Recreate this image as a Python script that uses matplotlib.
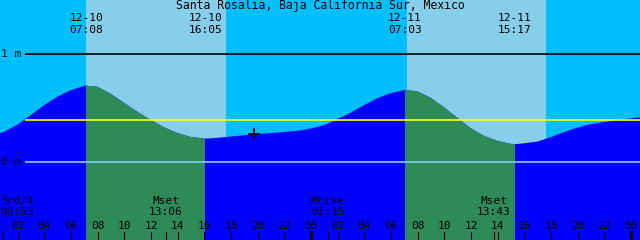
import matplotlib
matplotlib.use("Agg")
import matplotlib.pyplot as plt
from matplotlib.transforms import blended_transform_factory

title = "Santa Rosalia, Baja California Sur, Mexico"

# hours since 12-10 00:00, tide height in metres
tide_hours = [0.675, 1, 2, 3, 4, 5, 6, 7, 7.133, 8, 9, 10, 11, 12, 13, 14, 15,
              16, 16.083, 17, 18, 19, 20, 21, 22, 23, 24, 25, 26, 27, 28, 29,
              30, 31, 31.05, 32, 33, 34, 35, 36, 37, 38, 39, 39.283, 40, 41,
              42, 43, 44, 45, 46, 47, 48, 48.675]
tide_m = [0.269, 0.285, 0.350, 0.438, 0.531, 0.609, 0.669, 0.708, 0.710, 0.699,
          0.632, 0.549, 0.466, 0.392, 0.322, 0.271, 0.234, 0.221, 0.219, 0.227,
          0.239, 0.251, 0.262, 0.271, 0.281, 0.292, 0.313, 0.345, 0.401, 0.461,
          0.531, 0.595, 0.642, 0.669, 0.670, 0.656, 0.595, 0.507, 0.410, 0.313,
          0.244, 0.197, 0.171, 0.168, 0.176, 0.193, 0.234, 0.281, 0.322, 0.355,
          0.373, 0.392, 0.407, 0.417]

# high / low tides (labels along the top)
extreme_hours = [7.133, 16.083, 31.05, 39.283]
extreme_dates = ["12-10", "12-10", "12-11", "12-11"]
extreme_times = ["07:08", "16:05", "07:03", "15:17"]

# light sky and green water stretches
day_spans = [(7.125, 17.625), (31.2, 41.625)]
green_spans = [(7.133, 16.083), (31.05, 39.283)]

# moon events (labels along the bottom)
moon_hours = [0.883, 13.1, 25.25, 37.717]
moon_names = ["3rd/4", "Mset", "Mrise", "Mset"]
moon_times = ["00:53", "13:06", "01:15", "13:43"]

mean_level = 0.39
now_hour, now_m = 19.73, 0.262

t_start, t_end = 0.675, 48.675
y_low, y_high = -0.719, 1.503
line_start = 2.55

fig = plt.figure(figsize=(6.4, 2.4), dpi=100)
fig.patch.set_facecolor("#00BFFF")
ax = fig.add_axes([0, 0, 1, 1])
ax.set_axis_off()
ax.set_xlim(t_start, t_end)
ax.set_ylim(y_low, y_high)

for a, b in day_spans:
    ax.axvspan(a, b, color="#87CEEB", lw=0)

water = ax.fill_between(tide_hours, tide_m, y_low - 1, color="#0000FF", lw=0)
clip = water.get_paths()[0]
for a, b in green_spans:
    g = ax.axvspan(a, b, color="#2E8B57", lw=0)
    g.set_clip_path(clip, ax.transData)

ax.hlines(1.0, line_start, t_end, color="black", lw=1.2)
ax.hlines(mean_level, line_start, t_end, color="yellow", lw=1.2)
ax.hlines(0.0, line_start, t_end, color="#87CEFA", lw=1.2)

ax.plot([now_hour], [now_m], marker="+", color="black", ms=8, mew=1.3)

font = dict(family="DejaVu Sans Mono", size=8, color="black")
trans = blended_transform_factory(ax.transData, ax.transAxes)

ax.text(0.5, 0.975, title, transform=ax.transAxes, ha="center", va="center",
        family="DejaVu Sans Mono", size=8.3, color="black")
ax.text(0.002, 1 - 54 / 240, "1 m", transform=ax.transAxes, ha="left", va="center", **font)
ax.text(0.002, 1 - 162 / 240, "0 m", transform=ax.transAxes, ha="left", va="center", **font)

for h, d, t in zip(extreme_hours, extreme_dates, extreme_times):
    ax.text(h, 0.927, d, transform=trans, ha="center", va="center", **font)
    ax.text(h, 0.877, t, transform=trans, ha="center", va="center", **font)

for h, n, t in zip(moon_hours, moon_names, moon_times):
    if h - t_start < 1.5:
        x, ha = t_start + 0.05, "left"
    else:
        x, ha = h, "center"
    ax.text(x, 0.1625, n, transform=trans, ha=ha, va="center", **font)
    ax.text(x, 0.115, t, transform=trans, ha=ha, va="center", **font)
    ax.plot([h, h], [0, 0.033], transform=trans, color="black", lw=0.8)

for h in range(2, 49, 2):
    ax.text(h, 0.058, f"{h % 24:02d}", transform=trans, ha="center", va="center", **font)
    lw = 2.2 if h % 24 == 0 else 0.8
    ax.plot([h, h], [0, 0.033], transform=trans, color="black", lw=lw)

fig.savefig("out.png", dpi=100, facecolor=fig.get_facecolor())
